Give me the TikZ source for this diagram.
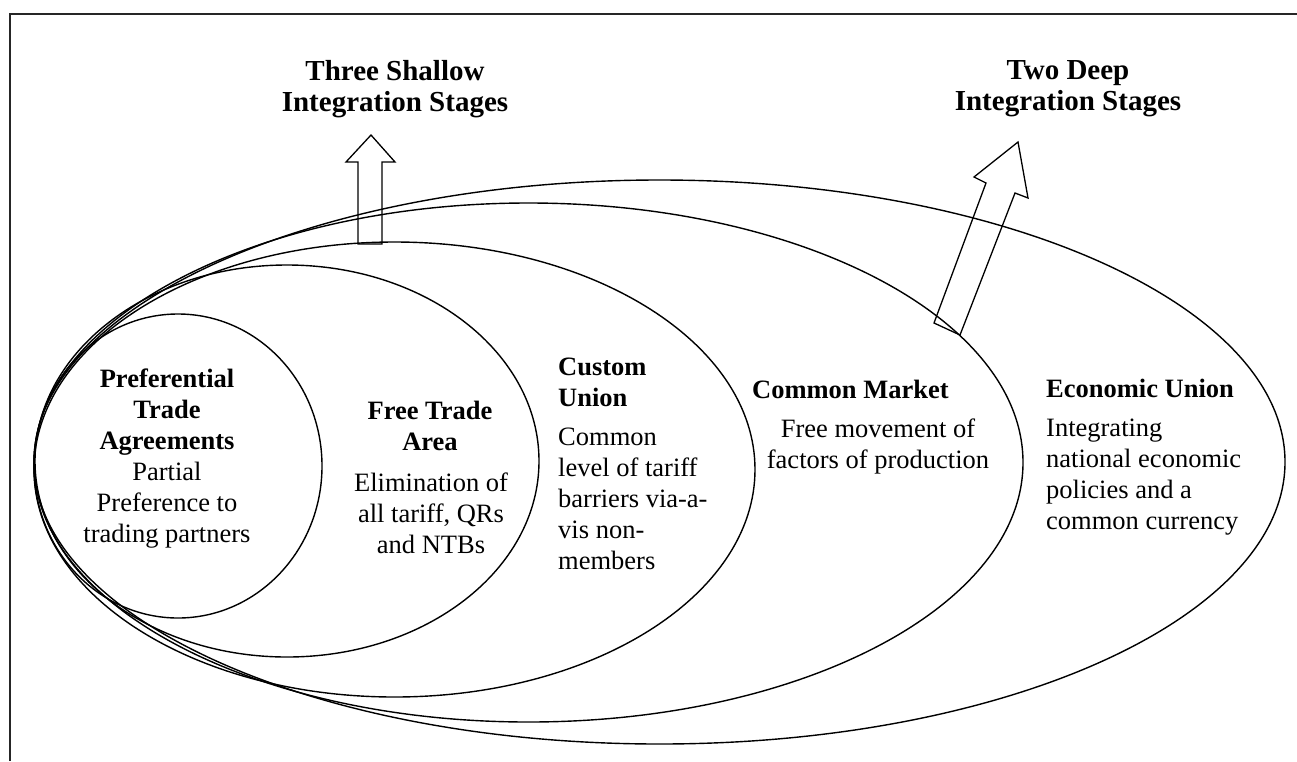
\documentclass[tikz,border=0pt]{standalone}
\usepackage{fontspec}
\setmainfont{Liberation Serif}
\usepackage{tikz}
\tikzset{
  base/.style={draw=black, line width=1.4pt, line join=round},
  frame/.style={draw=black!85, line width=1.6pt},
  blockarrow/.style={draw=black, line width=1.3pt, line join=miter},
  head/.style={font=\bfseries\fontsize{26.5}{31}\selectfont, inner sep=0pt},
  txt/.style={font=\fontsize{26.5}{31}\selectfont, inner sep=0pt},
  ttl/.style={font=\bfseries\fontsize{29}{31}\selectfont, inner sep=0pt, align=center, anchor=north},
}

\begin{document}
\begin{tikzpicture}[x=1pt,y=-1pt]
  \useasboundingbox (0,0) rectangle (1297,761);
  \draw[frame] (10,761) -- (10,14) -- (1297,14);

  % nested stages
  \coordinate (pta) at (178,466);
  \coordinate (fta) at (287,461);
  \coordinate (cu)  at (394.5,469.5);
  \coordinate (cm)  at (528.5,462.5);
  \coordinate (eu)  at (659.5,462);
  \draw[base] (pta) ellipse [x radius=144pt, y radius=152pt];
  \draw[base] (fta) ellipse [x radius=252pt, y radius=196pt];
  \draw[base] (cu)  ellipse [x radius=360.5pt, y radius=227.5pt];
  \draw[base] (cm)  ellipse [x radius=494.5pt, y radius=259.5pt];
  \draw[base] (eu)  ellipse [x radius=625.5pt, y radius=282pt];

  % block arrows
  \draw[blockarrow] (358,244) -- (358,162) -- (346,162) -- (371,135)
    -- (395,162) -- (382,162) -- (382,244) -- cycle;
  \draw[blockarrow] (934,323) -- (986,183) -- (974,177) -- (1018,142)
    -- (1028,198) -- (1015,193) -- (960,335) -- cycle;

  \node[ttl] (shallow) at (395,60) {Three Shallow\\Integration Stages};
  \node[ttl] (deep) at (1068,60) {Two Deep\\Integration Stages};

  \node[txt, align=center, anchor=north] (ptatxt) at (167,369)
    {\textbf{Preferential}\\\textbf{Trade}\\\textbf{Agreements}\\Partial\\Preference to\\trading partners};

  \node[head, align=center, anchor=north] (ftahead) at (430,401) {Free Trade\\Area};
  \node[txt, align=center, anchor=north] (ftatxt) at (431,473)
    {Elimination of\\all tariff, QRs\\and NTBs};

  \node[head, align=left, anchor=north west] (cuhead) at (558,358) {Custom\\Union};
  \node[txt, align=left, anchor=north west] (cutxt) at (558,428)
    {Common\\level of tariff\\barriers via-a-\\vis non-\\members};

  \node[head, anchor=north west] (cmhead) at (752,380) {Common Market};
  \node[txt, align=center, anchor=north] (cmtxt) at (878,419)
    {Free movement of\\factors of production};

  \node[head, anchor=north west] (euhead) at (1046,379) {Economic Union};
  \node[txt, align=left, anchor=north west] (eutxt) at (1046,419)
    {Integrating\\national economic\\policies and a\\common currency};
\end{tikzpicture}
\end{document}
